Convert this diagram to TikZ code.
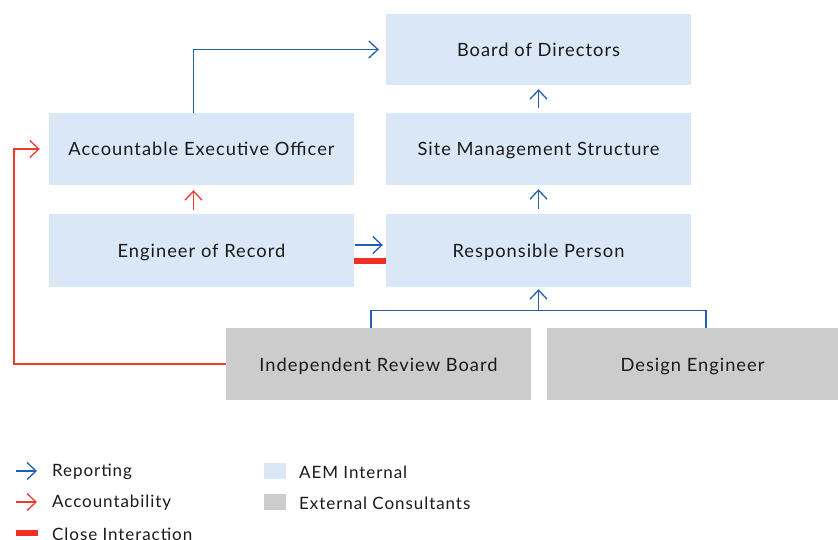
\documentclass[tikz,border=0pt]{standalone}
\usepackage{fontspec}
\setmainfont{Lato}[LetterSpace=5.5]
\usetikzlibrary{arrows.meta,calc}
\definecolor{aem}{HTML}{D9E7F6}
\definecolor{ext}{HTML}{CCCCCC}
\definecolor{repc}{HTML}{1F5FAD}
\definecolor{accc}{HTML}{F03A2E}
\definecolor{barc}{HTML}{EE3124}
\definecolor{txt}{HTML}{1A1A1A}
\tikzset{
  box/.style={minimum width=305pt, minimum height=72pt, inner sep=0pt, text=txt, text height=14pt, text depth=0pt, font=\fontsize{18.3}{21}\selectfont},
  internal/.style={box, fill=aem},
  external/.style={box, fill=ext},
  rep/.style={draw=repc, line width=1.3pt, -{Straight Barb[length=9pt,width=17pt,line width=1.3pt]}},
  acc/.style={draw=accc, line width=1.3pt, -{Straight Barb[length=9pt,width=17pt,line width=1.3pt]}},
  repline/.style={draw=repc, line width=1.3pt},
  legtext/.style={anchor=west, inner sep=0pt, text=txt, font=\fontsize{17}{20}\selectfont},
}
\begin{document}
\begin{tikzpicture}[x=1pt,y=-1pt]
\useasboundingbox (0,0) rectangle (838,540);
\node[internal, minimum height=71pt] (board) at (538.5,49.5) {Board of Directors};
\node[internal] (aeo) at (201.5,149) {Accountable Executive Officer};
\node[internal] (site) at (538.5,149) {Site Management Structure};
\node[internal, minimum height=73pt] (eor) at (201.5,250.5) {Engineer of Record};
\node[internal, minimum height=73pt] (rp) at (538.5,250.5) {Responsible Person};
\node[external] (irb) at (378.5,364) {Independent Review Board};
\node[external, minimum width=291pt] (de) at (692.5,364) {Design Engineer};

% connectors
\draw[rep] ([xshift=-8pt]aeo.north) |- ([xshift=-7pt]board.west);
\draw[rep] ([yshift=5pt]site.north) -- ([yshift=-4pt]board.south);
\draw[rep] ([yshift=5pt]rp.north) -- ([yshift=-4pt]site.south);
\draw[acc] ([xshift=-8pt,yshift=4pt]eor.north) -- ([xshift=-8pt,yshift=-5pt]aeo.south);
\draw[rep] ([xshift=1pt,yshift=5.5pt]eor.east) -- ([xshift=-3pt,yshift=5.5pt]rp.west);
\fill[barc] ([yshift=-7.5pt]eor.east) rectangle ([yshift=-13pt]rp.west);
\coordinate (jl) at ($(irb.north)+(-7.5,-17)$);
\coordinate (jr) at ($(de.north)+(13.5,-17)$);
\draw[repline] ([xshift=-7.5pt]irb.north) -- (jl) -- (jr) -- ([xshift=13.5pt]de.north);
\draw[rep] (jl -| rp.south) -- ([yshift=-2pt]rp.south);
\coordinate (rc) at (14,364);
\draw[acc] (irb.west) -- (rc) |- ([xshift=-9pt]aeo.west);

% legend
\coordinate (l1) at (16,471);
\coordinate (l2) at (16,502);
\coordinate (l3) at (16,533);
\draw[rep] (l1) -- ++(21,0);
\node[legtext] (t1) at (52,472) {Reporting};
\draw[acc] (l2) -- ++(21,0);
\node[legtext] (t2) at (52,503) {Accountability};
\fill[barc] ($(l3)+(0,-3)$) rectangle ++(22,6);
\node[legtext] (t3) at (52,534) {Close Interaction};
\node[fill=aem, minimum width=22pt, minimum height=16pt, inner sep=0pt] (s1) at (275,470.5) {};
\node[legtext] (t4) at (299,472) {AEM Internal};
\node[fill=ext, minimum width=22pt, minimum height=16pt, inner sep=0pt] (s2) at (275,501.5) {};
\node[legtext] (t5) at (299,503) {External Consultants};
\end{tikzpicture}
\end{document}
